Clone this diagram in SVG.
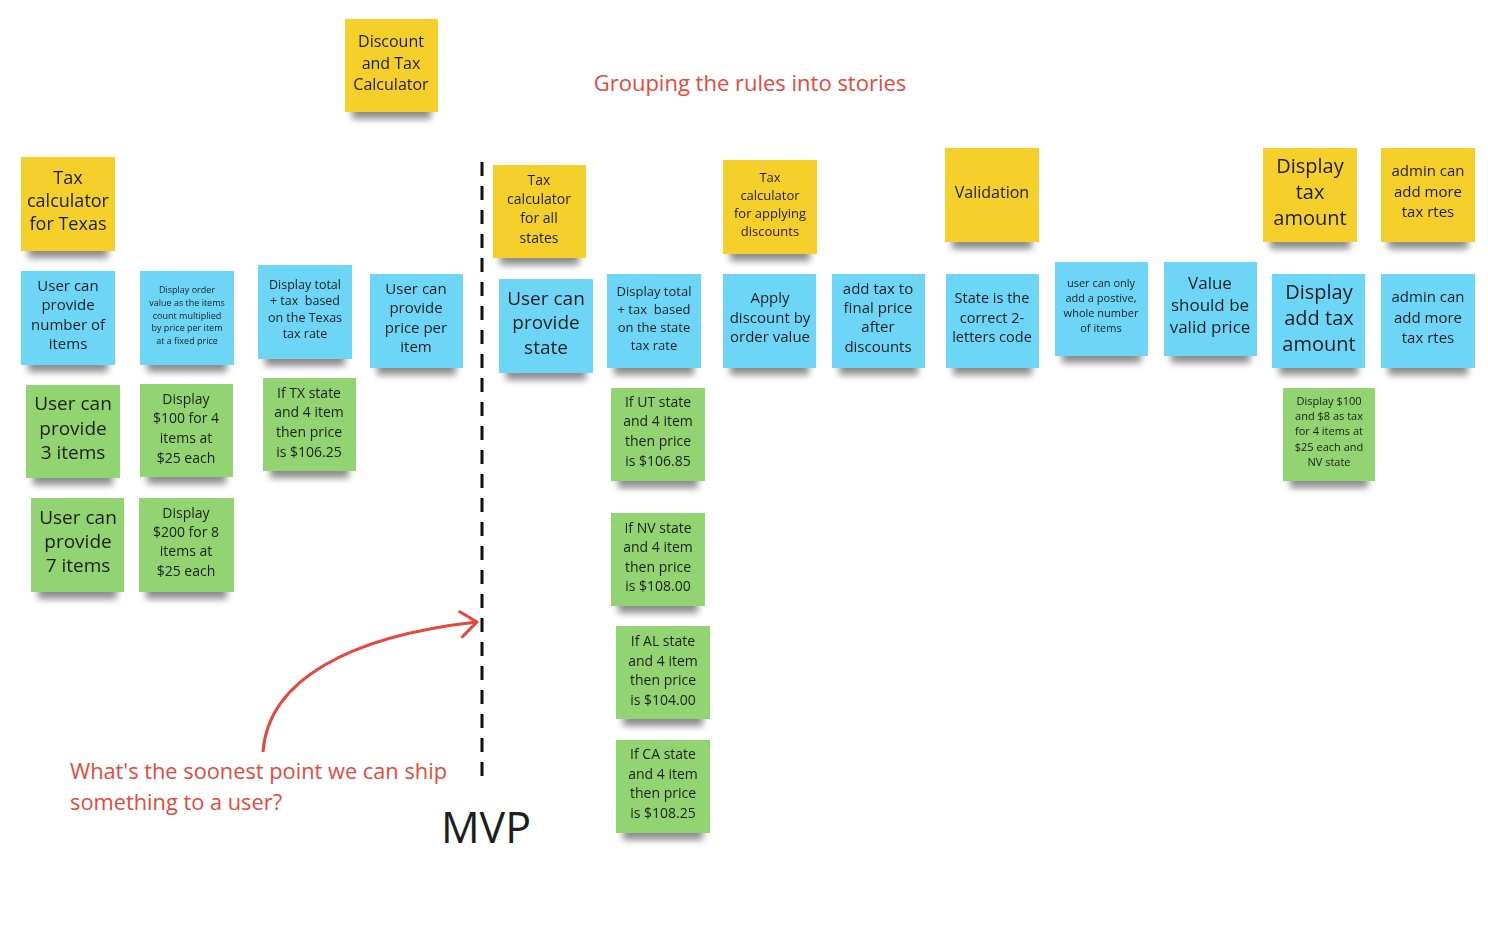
<svg xmlns="http://www.w3.org/2000/svg" width="1488" height="952" viewBox="0 0 1488 952">
<defs>
<filter id="sh" x="-10%" y="-10%" width="120%" height="135%">
<feMorphology in="SourceAlpha" operator="erode" radius="7 0" result="e"/>
<feOffset in="e" dx="0" dy="7" result="o"/>
<feGaussianBlur in="o" stdDeviation="3.5" result="b"/>
<feComponentTransfer in="b" result="c"><feFuncA type="linear" slope="0.45"/></feComponentTransfer>
<feMerge><feMergeNode in="c"/><feMergeNode in="SourceGraphic"/></feMerge>
</filter>
<marker id="ah" markerWidth="20" markerHeight="30" refX="18" refY="14" orient="auto" markerUnits="userSpaceOnUse" viewBox="0 0 20 30">
<path d="M2,2 L18,14 L2,27" fill="none" stroke="#e8453c" stroke-width="3" stroke-linecap="round" stroke-linejoin="round"/>
</marker>
<style>
text{font-family:"Open Sans","Noto Sans","Liberation Sans",sans-serif;fill:#1e1e1e;text-anchor:middle}
.y{fill:#f5d02c}
.b{fill:#6dd6f7}
.g{fill:#92d372}
.n{filter:url(#sh)}
.red{fill:#e8483a;text-anchor:start}
.pre{white-space:pre}
</style>
</defs>
<rect width="1488" height="952" fill="#ffffff"/>

<g id="connectors">
<line x1="482" y1="162" x2="482" y2="786" stroke="#111" stroke-width="3" stroke-dasharray="14,10"/>
<path d="M263,752 C268,680 350,636 477,622" fill="none" stroke="#e8453c" stroke-width="3" marker-end="url(#ah)"/>
</g>

<g id="title"><text x="750" y="91" style="font-size:22px;fill:#e8483a">Grouping the rules into stories</text></g>
<g id="question"><text class="red" x="70" y="779" style="font-size:21.8px">What's the soonest point we can ship</text><text class="red" x="70" y="810" style="font-size:21.8px">something to a user?</text></g>
<g id="mvp"><text x="486" y="843" style="font-size:43px">MVP</text></g>

<g id="n-discount-tax" class="n"><rect class="y" x="345" y="19" width="93" height="93"/>
<text style="font-size:16px"><tspan x="391" y="47">Discount</tspan><tspan x="391" y="68.5">and Tax</tspan><tspan x="391" y="90">Calculator</tspan></text></g>

<g id="n-tax-texas" class="n"><rect class="y" x="21" y="157" width="94" height="94"/>
<text style="font-size:18px"><tspan x="68" y="184">Tax</tspan><tspan x="68" y="207">calculator</tspan><tspan x="68" y="230">for Texas</tspan></text></g>

<g id="n-tax-all" class="n"><rect class="y" x="493" y="165" width="93" height="93"/>
<text style="font-size:14px"><tspan x="539" y="185">Tax</tspan><tspan x="539" y="204">calculator</tspan><tspan x="539" y="223">for all</tspan><tspan x="539" y="243">states</tspan></text></g>

<g id="n-tax-discounts" class="n"><rect class="y" x="723" y="160" width="94" height="94"/>
<text style="font-size:13px"><tspan x="770" y="182">Tax</tspan><tspan x="770" y="200">calculator</tspan><tspan x="770" y="218">for applying</tspan><tspan x="770" y="236">discounts</tspan></text></g>

<g id="n-validation" class="n"><rect class="y" x="945" y="148" width="94" height="94"/>
<text style="font-size:16px"><tspan x="992" y="198">Validation</tspan></text></g>

<g id="n-display-tax" class="n"><rect class="y" x="1263" y="148" width="94" height="94"/>
<text style="font-size:20px"><tspan x="1310" y="173">Display</tspan><tspan x="1310" y="199">tax</tspan><tspan x="1310" y="225">amount</tspan></text></g>

<g id="n-admin-y" class="n"><rect class="y" x="1381" y="148" width="94" height="94"/>
<text style="font-size:15px"><tspan x="1428" y="176">admin can</tspan><tspan x="1428" y="197">add more</tspan><tspan x="1428" y="217">tax rtes</tspan></text></g>

<g id="n-num-items" class="n"><rect class="b" x="21" y="271" width="94" height="94"/>
<text style="font-size:15px"><tspan x="68" y="291">User can</tspan><tspan x="68" y="310">provide</tspan><tspan x="68" y="330">number of</tspan><tspan x="68" y="349">items</tspan></text></g>

<g id="n-order-value" class="n"><rect class="b" x="140" y="271" width="94" height="94"/>
<text style="font-size:9px"><tspan x="187" y="293">Display order</tspan><tspan x="187" y="306">value as the items</tspan><tspan x="187" y="319">count multiplied</tspan><tspan x="187" y="331">by price per item</tspan><tspan x="187" y="344">at a fixed price</tspan></text></g>

<g id="n-texas-total" class="n"><rect class="b" x="258" y="265" width="94" height="94"/>
<text class="pre" style="font-size:12.5px"><tspan x="305" y="289">Display total</tspan><tspan x="305" y="305">+ tax  based</tspan><tspan x="305" y="322">on the Texas</tspan><tspan x="305" y="338">tax rate</tspan></text></g>

<g id="n-price-item" class="n"><rect class="b" x="370" y="274" width="93" height="94"/>
<text style="font-size:15px"><tspan x="416" y="294">User can</tspan><tspan x="416" y="313">provide</tspan><tspan x="416" y="333">price per</tspan><tspan x="416" y="352">item</tspan></text></g>

<g id="n-state" class="n"><rect class="b" x="499" y="279" width="94" height="94"/>
<text style="font-size:19px"><tspan x="546" y="305">User can</tspan><tspan x="546" y="329">provide</tspan><tspan x="546" y="354">state</tspan></text></g>

<g id="n-state-total" class="n"><rect class="b" x="607" y="274" width="94" height="94"/>
<text class="pre" style="font-size:13px"><tspan x="654" y="296">Display total</tspan><tspan x="654" y="314">+ tax  based</tspan><tspan x="654" y="332">on the state</tspan><tspan x="654" y="350">tax rate</tspan></text></g>

<g id="n-apply-discount" class="n"><rect class="b" x="723" y="274" width="93" height="94"/>
<text style="font-size:15px"><tspan x="770" y="303">Apply</tspan><tspan x="770" y="323">discount by</tspan><tspan x="770" y="342">order value</tspan></text></g>

<g id="n-add-tax" class="n"><rect class="b" x="832" y="274" width="93" height="94"/>
<text style="font-size:15px"><tspan x="878" y="294">add tax to</tspan><tspan x="878" y="313">final price</tspan><tspan x="878" y="332">after</tspan><tspan x="878" y="352">discounts</tspan></text></g>

<g id="n-state-code" class="n"><rect class="b" x="946" y="274" width="93" height="94"/>
<text style="font-size:14.5px"><tspan x="992" y="303">State is the</tspan><tspan x="992" y="323">correct 2-</tspan><tspan x="992" y="342">letters code</tspan></text></g>

<g id="n-positive" class="n"><rect class="b" x="1055" y="262" width="93" height="94"/>
<text style="font-size:11px"><tspan x="1101" y="287">user can only</tspan><tspan x="1101" y="302">add a postive,</tspan><tspan x="1101" y="317">whole number</tspan><tspan x="1101" y="332">of items</tspan></text></g>

<g id="n-valid-price" class="n"><rect class="b" x="1164" y="262" width="93" height="94"/>
<text style="font-size:17px"><tspan x="1210" y="289">Value</tspan><tspan x="1210" y="311">should be</tspan><tspan x="1210" y="333">valid price</tspan></text></g>

<g id="n-display-add-tax" class="n"><rect class="b" x="1272" y="274" width="93" height="94"/>
<text style="font-size:20px"><tspan x="1319" y="299">Display</tspan><tspan x="1319" y="325">add tax</tspan><tspan x="1319" y="351">amount</tspan></text></g>

<g id="n-admin-b" class="n"><rect class="b" x="1381" y="274" width="94" height="94"/>
<text style="font-size:15px"><tspan x="1428" y="302">admin can</tspan><tspan x="1428" y="323">add more</tspan><tspan x="1428" y="343">tax rtes</tspan></text></g>

<g id="n-3-items" class="n"><rect class="g" x="26" y="385" width="94" height="93"/>
<text style="font-size:19px"><tspan x="73" y="410">User can</tspan><tspan x="73" y="435">provide</tspan><tspan x="73" y="459">3 items</tspan></text></g>

<g id="n-100-4" class="n"><rect class="g" x="140" y="384" width="93" height="93"/>
<text style="font-size:14px"><tspan x="186" y="404">Display</tspan><tspan x="186" y="423">$100 for 4</tspan><tspan x="186" y="443">items at</tspan><tspan x="186" y="463">$25 each</tspan></text></g>

<g id="n-tx-price" class="n"><rect class="g" x="263" y="378" width="93" height="93"/>
<text style="font-size:14px"><tspan x="309" y="398">If TX state</tspan><tspan x="309" y="417">and 4 item</tspan><tspan x="309" y="437">then price</tspan><tspan x="309" y="457">is $106.25</tspan></text></g>

<g id="n-7-items" class="n"><rect class="g" x="31" y="498" width="93" height="94"/>
<text style="font-size:19px"><tspan x="78" y="524">User can</tspan><tspan x="78" y="548">provide</tspan><tspan x="78" y="572">7 items</tspan></text></g>

<g id="n-200-8" class="n"><rect class="g" x="139" y="498" width="95" height="94"/>
<text style="font-size:14px"><tspan x="186" y="518">Display</tspan><tspan x="186" y="537">$200 for 8</tspan><tspan x="186" y="556">items at</tspan><tspan x="186" y="576">$25 each</tspan></text></g>

<g id="n-ut" class="n"><rect class="g" x="611" y="388" width="94" height="93"/>
<text style="font-size:14px"><tspan x="658" y="407">If UT state</tspan><tspan x="658" y="426">and 4 item</tspan><tspan x="658" y="446">then price</tspan><tspan x="658" y="466">is $106.85</tspan></text></g>

<g id="n-nv" class="n"><rect class="g" x="611" y="513" width="94" height="93"/>
<text style="font-size:14px"><tspan x="658" y="533">If NV state</tspan><tspan x="658" y="552">and 4 item</tspan><tspan x="658" y="572">then price</tspan><tspan x="658" y="591">is $108.00</tspan></text></g>

<g id="n-al" class="n"><rect class="g" x="616" y="626" width="94" height="93"/>
<text style="font-size:14px"><tspan x="663" y="646">If AL state</tspan><tspan x="663" y="666">and 4 item</tspan><tspan x="663" y="685">then price</tspan><tspan x="663" y="705">is $104.00</tspan></text></g>

<g id="n-ca" class="n"><rect class="g" x="616" y="740" width="94" height="93"/>
<text style="font-size:14px"><tspan x="663" y="759">If CA state</tspan><tspan x="663" y="779">and 4 item</tspan><tspan x="663" y="798">then price</tspan><tspan x="663" y="818">is $108.25</tspan></text></g>

<g id="n-nv-tax" class="n"><rect class="g" x="1283" y="388" width="92" height="93"/>
<text style="font-size:11px"><tspan x="1329" y="405">Display $100</tspan><tspan x="1329" y="420">and $8 as tax</tspan><tspan x="1329" y="435">for 4 items at</tspan><tspan x="1329" y="451">$25 each and</tspan><tspan x="1329" y="466">NV state</tspan></text></g>
</svg>
